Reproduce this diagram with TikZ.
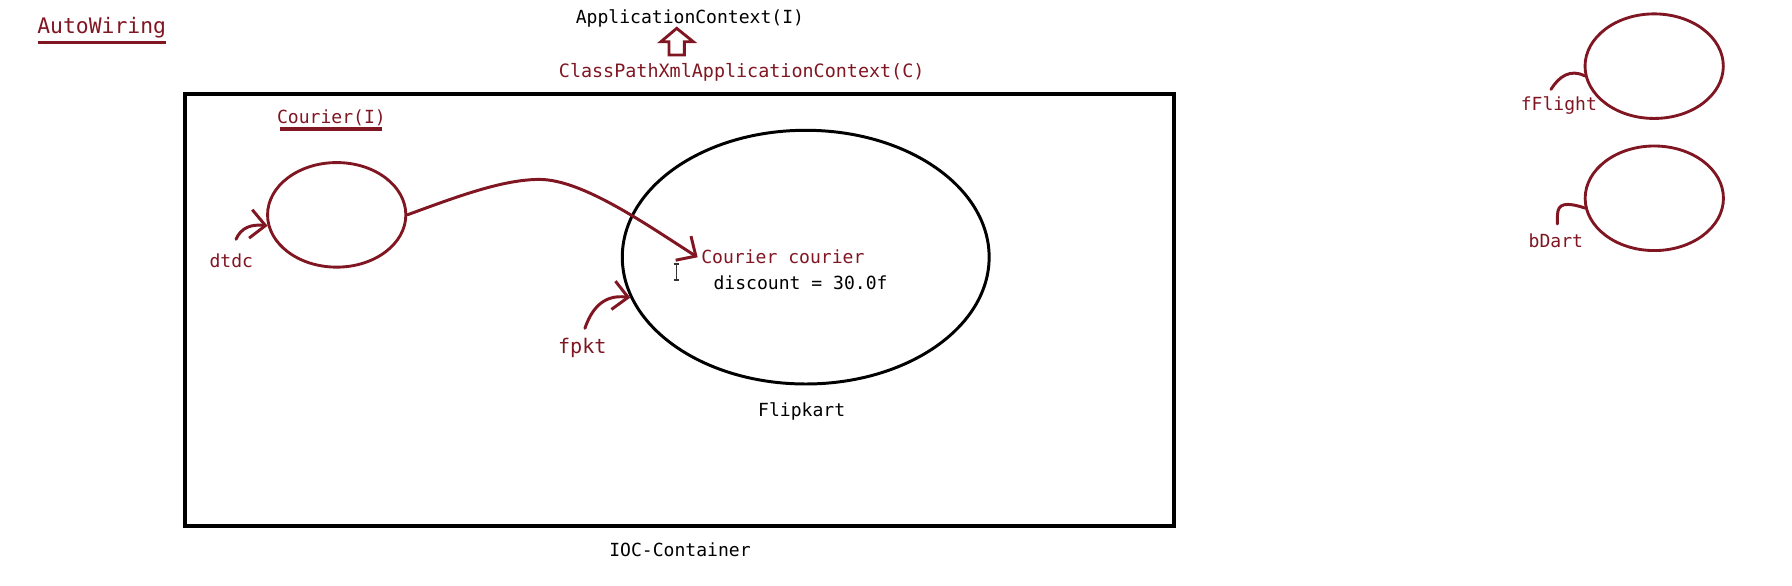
\documentclass[tikz,border=0pt]{standalone}
\usepackage{fontspec}
\setmonofont{DejaVu Sans Mono}
\usetikzlibrary{arrows.meta,shapes.geometric}
\definecolor{wine}{RGB}{128,22,34}
\begin{document}
\begin{tikzpicture}[x=1pt,y=-1pt,
  lbl/.style={font=\ttfamily\fontsize{15.8}{18}\selectfont, inner sep=0pt, anchor=base},
  rlbl/.style={lbl, text=wine},
  bean/.style={draw=wine, line width=2.5pt, ellipse, inner sep=0pt, minimum width=121pt, minimum height=91.5pt},
  hook/.style={draw=wine, line width=2.6pt, line cap=round},
  uline/.style={draw=wine, line width=3pt},
  barb/.style={-{Straight Barb[length=13pt,width=25pt]}}
]
\useasboundingbox (0,0) rectangle (1568,512.7);
% titles
\node[rlbl, font=\ttfamily\fontsize{18.7}{22}\selectfont] (aw) at (89,29) {AutoWiring};
\draw[uline] (33,37) -- (145,37);
\node[lbl] (appctx) at (603.7,20.4) {ApplicationContext(I)};
\node[rlbl, font=\ttfamily\fontsize{16.1}{19}\selectfont] (cpx) at (649,67.7) {ClassPathXmlApplicationContext(C)};
\draw[draw=wine, line width=2.5pt, line join=miter] (592.1,24.8) -- (606.6,36.5) -- (598.8,36.5) -- (598.8,48.1) -- (585.4,48.1) -- (585.4,36.5) -- (578.3,36.5) -- cycle;
% container
\node[draw, line width=3.2pt, inner sep=0pt, minimum width=865pt, minimum height=378pt] (ioc) at (594.5,271) {};
\node[lbl] (ioclbl) at (595,487) {IOC-Container};
\node[rlbl] (courI) at (290,108) {Courier(I)};
\draw[uline] (245,113) -- (334,113);
% dtdc bean
\node[bean] (dtdc) at (294.6,188) {};
\node[rlbl] (dtdclbl) at (202.4,234) {dtdc};
\coordinate (dtdcstart) at (206.5,209.4);
\draw[hook, barb] (dtdcstart) .. controls (211,199) and (220,196) .. (dtdc.189);
% flipkart bean
\node[draw, ellipse, line width=2.6pt, inner sep=0pt, minimum width=321pt, minimum height=222pt] (flip) at (705,225) {};
\node[lbl] (fliplbl) at (701.5,364) {Flipkart};
\node[rlbl] (cc) at (685,231) {Courier courier};
\node[lbl] (disc) at (700.5,253) {discount = 30.0f};
\node[rlbl, font=\ttfamily\fontsize{17.6}{20}\selectfont] (fpkt) at (509.5,309) {fpkt};
\coordinate (fpktstart) at (511.8,287.3);
\draw[hook, barb] (fpktstart) .. controls (517,272) and (527,257) .. (flip.193);
% autowire connector
\coordinate (peak) at (472,157);
\draw[hook, barb] (dtdc.east) .. controls (400,172) and (440,157) .. (peak) .. controls (510,157) and (567,197.5) .. ([xshift=-3pt]cc.west);
% text cursor
\draw[line width=0.9pt, black!80] (592,231) -- (592,245) (589.5,231) -- (594.5,231) (589.5,245) -- (594.5,245);
% other beans
\node[bean] (ff) at (1447.4,57.9) {};
\node[rlbl] (fflbl) at (1364,97) {fFlight};
\coordinate (ffstart) at (1357.1,78.2);
\draw[hook] (ffstart) .. controls (1364,67) and (1374,60) .. (ff.188);
\node[bean] (bd) at (1447.5,173.5) {};
\node[rlbl] (bdlbl) at (1361.4,217) {bDart};
\coordinate (bdstart) at (1362.6,196);
\draw[hook] (bdstart) -- (1362.8,188) .. controls (1363,178) and (1370,176.5) .. (bd.188);
\end{tikzpicture}
\end{document}
